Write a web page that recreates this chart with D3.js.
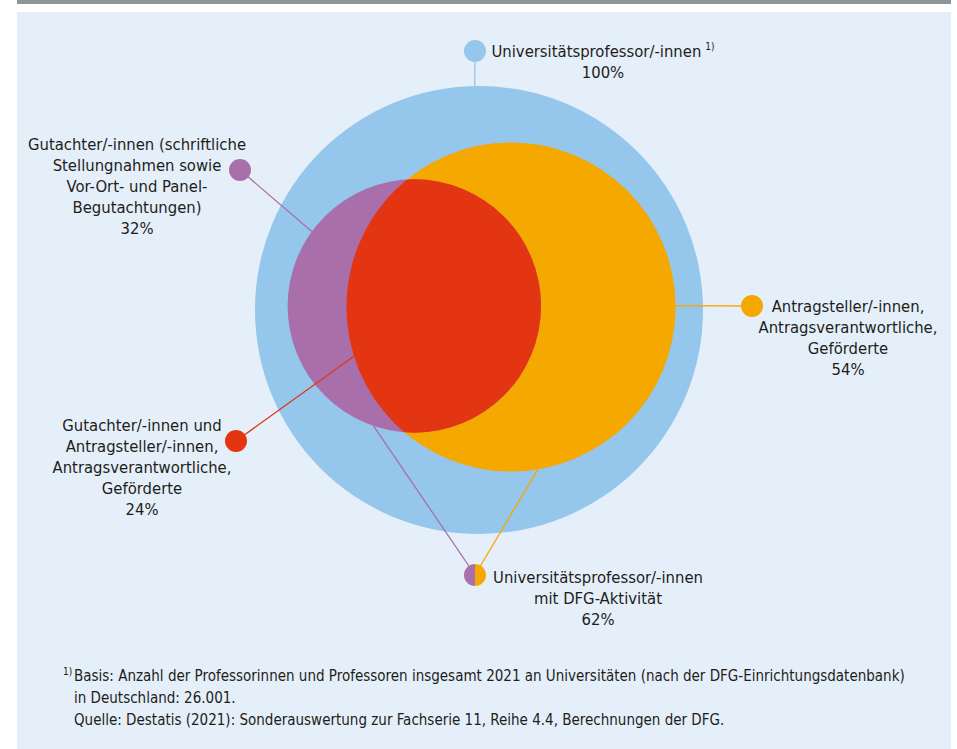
<!DOCTYPE html>
<html>
<head>
<meta charset="utf-8">
<script src="https://cdn.jsdelivr.net/npm/d3@7"></script>
<style>
    body { margin: 0; background: #ffffff; }
    svg text { font-family: "Liberation Sans Narrow", "DejaVu Sans Condensed", sans-serif; fill: #1d1d1b; }
</style>
</head>
<body>
<div id="container"></div>
<script>
"use strict"

// shares of all university professors (in %)
const setKeys = ["all", "applicants", "reviewers"];
const setShares = [100, 54, 32];
const overlapShare = 24;
const activeShare = 62;

const labelLines = [
    ["Universitätsprofessor/-innen"],
    ["Antragsteller/-innen,", "Antragsverantwortliche,", "Geförderte"],
    ["Gutachter/-innen (schriftliche", "Stellungnahmen sowie", "Vor-Ort- und Panel-", "Begutachtungen)"],
    ["Gutachter/-innen und", "Antragsteller/-innen,", "Antragsverantwortliche,", "Geförderte"],
    ["Universitätsprofessor/-innen", "mit DFG-Aktivität"]
];
const labelShares = [setShares[0], setShares[1], setShares[2], overlapShare, activeShare];

const footnoteLines = [
    "Basis: Anzahl der Professorinnen und Professoren insgesamt 2021 an Universitäten (nach der DFG-Einrichtungsdatenbank)",
    "in Deutschland: 26.001.",
    "Quelle: Destatis (2021): Sonderauswertung zur Fachserie 11, Reihe 4.4, Berechnungen der DFG."
];

const colors = { all: "#95c6eb", applicants: "#f5a800", reviewers: "#a86fab", overlap: "#e43513" };
const width = 957;
const height = 749;
const bigCenter = [479, 310];
const applicantOffset = [32, -3];
const dotRadius = 11;
const lineHeight = 21;


function Main()
{
    const svg = d3.select("#container").append("svg")
        .attr("width", width)
        .attr("height", height);

    // panel
    svg.append("rect").attr("x", 17).attr("y", 0).attr("width", 934).attr("height", 4).attr("fill", "#8e9699");
    svg.append("rect").attr("x", 17).attr("y", 12).attr("width", 934).attr("height", height - 12).attr("fill", "#e5eff9");

    const rScale = d3.scaleSqrt().domain([0, 100]).range([0, 224]);
    const rAll = rScale(setShares[0]);
    const rApp = rScale(setShares[1]);
    const rRev = rScale(setShares[2]);

    // distance between applicants and reviewers so that the lens equals the overlap share
    const targetArea = Math.PI * rAll * rAll * overlapShare / 100;
    const dist = SolveDistance(rApp, rRev, targetArea);

    const circles = {
        all: { cx: bigCenter[0], cy: bigCenter[1], r: rAll },
        applicants: { cx: bigCenter[0] + applicantOffset[0], cy: bigCenter[1] + applicantOffset[1], r: rApp }
    };
    circles.reviewers = { cx: circles.applicants.cx - dist, cy: circles.applicants.cy - 1, r: rRev };

    const defs = svg.append("defs");
    defs.append("clipPath").attr("id", "clipApp")
        .append("circle")
        .attr("cx", circles.applicants.cx).attr("cy", circles.applicants.cy).attr("r", rApp);

    svg.append("g")
        .selectAll("circle")
        .data(setKeys)
        .enter()
        .append("circle")
        .attr("cx", d => circles[d].cx)
        .attr("cy", d => circles[d].cy)
        .attr("r", d => circles[d].r)
        .attr("fill", d => colors[d]);

    svg.append("circle")
        .attr("cx", circles.reviewers.cx)
        .attr("cy", circles.reviewers.cy)
        .attr("r", rRev)
        .attr("clip-path", "url(#clipApp)")
        .attr("fill", colors.overlap);

    // leader lines: dot position, circle, angle on that circle
    const leaders = [
        { dot: [475, 51], circle: "all", angle: -91.1, color: colors.all },
        { dot: [752, 306], circle: "applicants", angle: -0.5, color: colors.applicants },
        { dot: [240, 170], circle: "reviewers", angle: -144, color: colors.reviewers },
        { dot: [236, 441], circle: "applicants", angle: 162.6, color: colors.overlap },
        { dot: [475, 575], circle: "reviewers", angle: 108.7, color: colors.reviewers },
        { dot: [475, 575], circle: "applicants", angle: 80.6, color: colors.applicants }
    ];

    svg.append("g")
        .selectAll("line")
        .data(leaders)
        .enter()
        .append("line")
        .attr("x1", d => d.dot[0])
        .attr("y1", d => d.dot[1])
        .attr("x2", d => PointOn(circles[d.circle], d.angle)[0])
        .attr("y2", d => PointOn(circles[d.circle], d.angle)[1])
        .attr("stroke", d => d.color)
        .attr("stroke-width", 1.3);

    const dots = svg.append("g");
    leaders.slice(0, 4).forEach(d => {
        dots.append("circle").attr("cx", d.dot[0]).attr("cy", d.dot[1]).attr("r", dotRadius).attr("fill", d.color);
    });
    const half = d3.arc().innerRadius(0).outerRadius(dotRadius);
    dots.append("path").attr("transform", "translate(475,575)")
        .attr("d", half({ startAngle: Math.PI, endAngle: 2 * Math.PI })).attr("fill", colors.reviewers);
    dots.append("path").attr("transform", "translate(475,575)")
        .attr("d", half({ startAngle: 0, endAngle: Math.PI })).attr("fill", colors.applicants);

    // labels
    const labelPos = [[603, 57], [848, 312], [137, 150], [142, 431], [598, 583]];
    labelLines.forEach((lines, i) => {
        const t = svg.append("text")
            .attr("text-anchor", "middle")
            .attr("font-size", 16.5);
        lines.concat([labelShares[i] + "%"]).forEach((line, j) => {
            t.append("tspan")
                .attr("x", labelPos[i][0])
                .attr("y", labelPos[i][1] + j * lineHeight)
                .text(line);
        });
        if (i == 0)
        {
            t.select("tspan").append("tspan")
                .attr("font-size", 10)
                .attr("dx", 4)
                .attr("dy", -7)
                .text("1)");
        }
    });

    // footnote
    const foot = svg.append("g").attr("font-size", 15);
    foot.append("text").attr("x", 63).attr("y", 675).attr("font-size", 10).text("1)");
    footnoteLines.forEach((line, i) => {
        foot.append("text")
            .attr("x", 74)
            .attr("y", 681 + i * 22)
            .text(line);
    });
};


function LensArea(r1, r2, d)
{
    const a1 = Math.acos((d * d + r1 * r1 - r2 * r2) / (2 * d * r1));
    const a2 = Math.acos((d * d + r2 * r2 - r1 * r1) / (2 * d * r2));
    const k = Math.sqrt((-d + r1 + r2) * (d + r1 - r2) * (d - r1 + r2) * (d + r1 + r2));
    return r1 * r1 * a1 + r2 * r2 * a2 - 0.5 * k;
};


function SolveDistance(r1, r2, area)
{
    let lo = Math.abs(r1 - r2) + 0.001;
    let hi = r1 + r2 - 0.001;
    for (let i = 0; i < 60; i++)
    {
        const mid = (lo + hi) / 2;
        (LensArea(r1, r2, mid) > area) ? lo = mid : hi = mid;
    }
    return (lo + hi) / 2;
};


function PointOn(c, angle)
{
    const a = angle * Math.PI / 180;
    return [c.cx + c.r * Math.cos(a), c.cy + c.r * Math.sin(a)];
};


Main();
</script>
</body>
</html>
